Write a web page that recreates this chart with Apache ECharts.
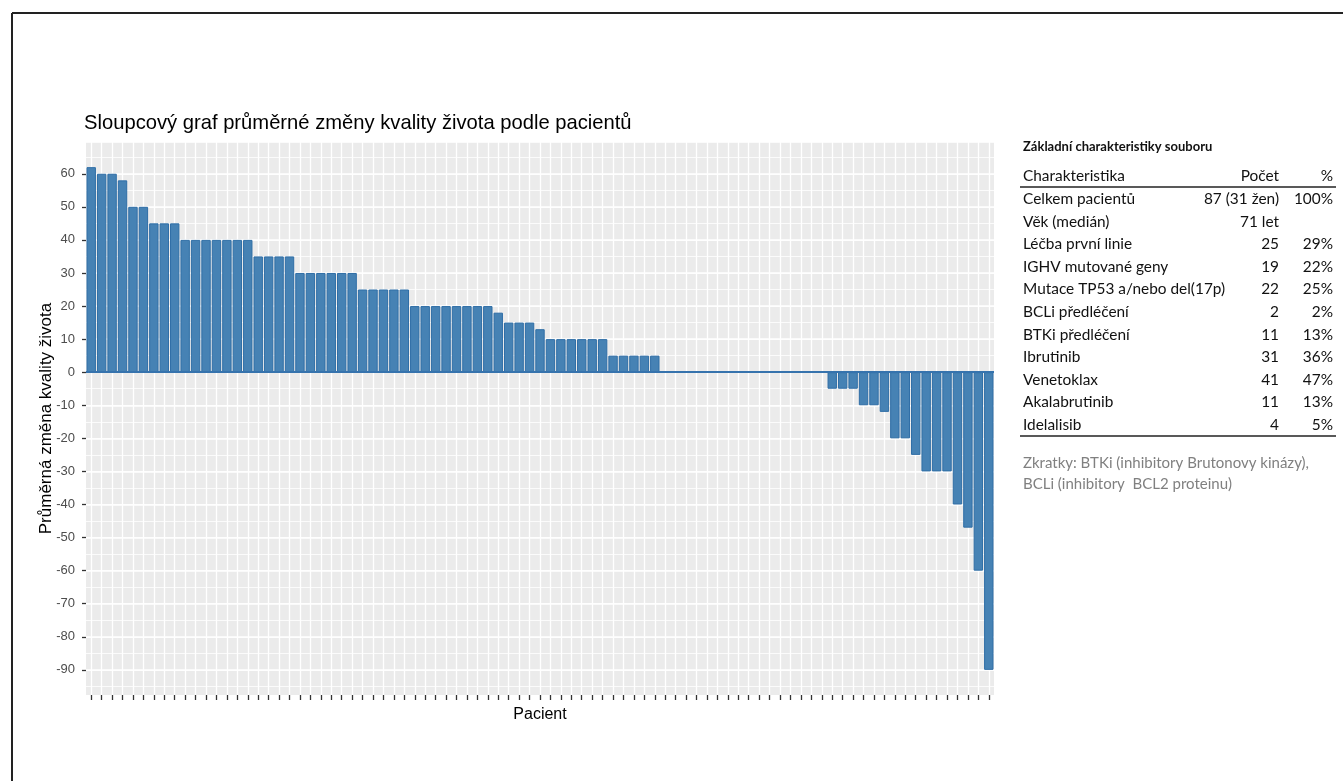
<!DOCTYPE html>
<html>
<head>
<meta charset="utf-8">
<script src="https://cdn.jsdelivr.net/npm/echarts@6/dist/echarts.min.js"></script>
<style>
html,body{margin:0;padding:0;background:#fff;}
#chart{width:1343px;height:781px;}
</style>
</head>
<body>
<div id="chart"></div>
<script>
// ---- data ----
const patients = [1,2,3,4,5,6,7,8,9,10,11,12,13,14,15,16,17,18,19,20,21,22,23,24,25,26,27,28,29,30,
  31,32,33,34,35,36,37,38,39,40,41,42,43,44,45,46,47,48,49,50,51,52,53,54,55,56,57,58,59,60,
  61,62,63,64,65,66,67,68,69,70,71,72,73,74,75,76,77,78,79,80,81,82,83,84,85,86,87];
const qolChange = [62,60,60,58,50,50,45,45,45,40,40,40,40,40,40,40,35,35,35,35,30,30,30,30,30,30,
  25,25,25,25,25,20,20,20,20,20,20,20,20,18,15,15,15,13,10,10,10,10,10,10,5,5,5,5,5,
  0,0,0,0,0,0,0,0,0,0,0,0,0,0,0,0,
  -5,-5,-5,-10,-10,-12,-20,-20,-25,-30,-30,-30,-40,-47,-60,-90];
const yTicks = [-90,-80,-70,-60,-50,-40,-30,-20,-10,0,10,20,30,40,50,60];

const chartTitle = 'Sloupcový graf průměrné změny kvality života podle pacientů';
const yTitle = 'Průměrná změna kvality života';
const xTitle = 'Pacient';

const tableTitle = 'Základní charakteristiky souboru';
const tableHeader = ['Charakteristika', 'Počet', '%'];
const tableLabels = ['Celkem pacientů','Věk (medián)','Léčba první linie','IGHV mutované geny',
  'Mutace TP53 a/nebo del(17p)','BCLi předléčení','BTKi předléčení','Ibrutinib','Venetoklax',
  'Akalabrutinib','Idelalisib'];
const tableCounts = ['87 (31 žen)','71 let','25','19','22','2','11','31','41','11','4'];
const tablePercents = ['100%','','29%','22%','25%','2%','13%','36%','47%','13%','5%'];
const footnote = ['Zkratky: BTKi (inhibitory Brutonovy kinázy),', 'BCLi (inhibitory  BCL2 proteinu)'];

// ---- chart ----
const chart = echarts.init(document.getElementById('chart'), null, {renderer: 'canvas'});
const sansFont = '"Liberation Sans", Arial, sans-serif';
const tableFont = 'Lato, "Open Sans", sans-serif';

const graphics = [];
// outer frame
graphics.push({type:'line', shape:{x1:12, y1:13, x2:1343, y2:13}, style:{stroke:'#222', lineWidth:2}});
graphics.push({type:'line', shape:{x1:12, y1:13, x2:12, y2:781}, style:{stroke:'#222', lineWidth:2}});

const tx0 = 1023, tCount = 1279, tPct = 1333;
const rowY0 = 199, rowStep = 22.6;
const tf = '15.4px ' + tableFont;
graphics.push({type:'text', x:tx0, y:147, style:{text:tableTitle, font:'bold 13px ' + tableFont, fill:'#111', verticalAlign:'middle'}});
graphics.push({type:'text', x:tx0, y:176, style:{text:tableHeader[0], font:tf, fill:'#111', verticalAlign:'middle'}});
graphics.push({type:'text', x:tCount, y:176, style:{text:tableHeader[1], font:tf, fill:'#111', verticalAlign:'middle', align:'right'}});
graphics.push({type:'text', x:tPct, y:176, style:{text:tableHeader[2], font:tf, fill:'#111', verticalAlign:'middle', align:'right'}});
graphics.push({type:'line', shape:{x1:1020, y1:187, x2:1336, y2:187}, style:{stroke:'#222', lineWidth:1.6}});
tableLabels.forEach(function(lab, i){
  const y = rowY0 + i * rowStep;
  graphics.push({type:'text', x:tx0, y:y, style:{text:lab, font:tf, fill:'#111', verticalAlign:'middle'}});
  graphics.push({type:'text', x:tCount, y:y, style:{text:tableCounts[i], font:tf, fill:'#111', verticalAlign:'middle', align:'right'}});
  graphics.push({type:'text', x:tPct, y:y, style:{text:tablePercents[i], font:tf, fill:'#111', verticalAlign:'middle', align:'right'}});
});
graphics.push({type:'line', shape:{x1:1020, y1:436, x2:1336, y2:436}, style:{stroke:'#222', lineWidth:1.6}});
footnote.forEach(function(t, i){
  graphics.push({type:'text', x:tx0, y:463 + i * 21, style:{text:t, font:'15px ' + tableFont, fill:'#808080', verticalAlign:'middle'}});
});

const option = {
  animation: false,
  backgroundColor: '#ffffff',
  title: {
    text: chartTitle,
    left: 84, top: 113, padding: 0,
    textStyle: {fontFamily: sansFont, fontSize: 20.2, fontWeight: 'normal', color: '#000'}
  },
  grid: {
    left: 86, right: 349, top: 142, bottom: 86,
    show: true, backgroundColor: '#EBEBEB', borderWidth: 0,
    containLabel: false
  },
  xAxis: [
    {
      type: 'category', data: patients, boundaryGap: true,
      axisLine: {show: false, onZero: false},
      axisTick: {show: true, interval: 0, alignWithLabel: true, length: 5, lineStyle: {color: '#333', width: 1.3}},
      axisLabel: {show: false, interval: 0},
      splitLine: {show: true, interval: 0, alignWithLabel: true, lineStyle: {color: '#ffffff', width: 1.3}},
      name: xTitle, nameLocation: 'middle', nameGap: 12,
      nameTextStyle: {fontFamily: sansFont, fontSize: 16, color: '#000', verticalAlign: 'top'}
    }
  ],
  yAxis: [
    {
      type: 'value', min: -97.6, max: 69.6, splitNumber: 17,
      axisLine: {show: false},
      axisTick: {show: true, length: 4, customValues: yTicks, lineStyle: {color: '#333', width: 1.3}},
      axisLabel: {show: true, customValues: yTicks, color: '#4D4D4D', fontFamily: sansFont, fontSize: 13, margin: 11},
      splitLine: {show: true, lineStyle: {color: '#ffffff', width: 1.6}},
      name: yTitle, nameLocation: 'middle', nameGap: 31, nameMoveOverlap: false,
      nameTextStyle: {fontFamily: sansFont, fontSize: 17, color: '#000'}
    },
    {
      type: 'value', min: -97.6, max: 69.6, splitNumber: 33, position: 'left',
      axisLine: {show: false}, axisTick: {show: false}, axisLabel: {show: false},
      splitLine: {show: true, lineStyle: {color: '#ffffff', width: 0.8}}
    }
  ],
  series: [{
    type: 'bar',
    xAxisIndex: 0, yAxisIndex: 0,
    data: qolChange,
    barWidth: '90%',
    z: 3,
    itemStyle: {color: '#4682B4', borderColor: '#2F6EA6', borderWidth: 1},
    markLine: {
      silent: true, symbol: 'none', z: 4,
      label: {show: false},
      lineStyle: {color: '#3673AD', width: 2.2, type: 'solid'},
      data: [{yAxis: 0}]
    }
  }],
  graphic: graphics
};
chart.setOption(option);
</script>
</body>
</html>
